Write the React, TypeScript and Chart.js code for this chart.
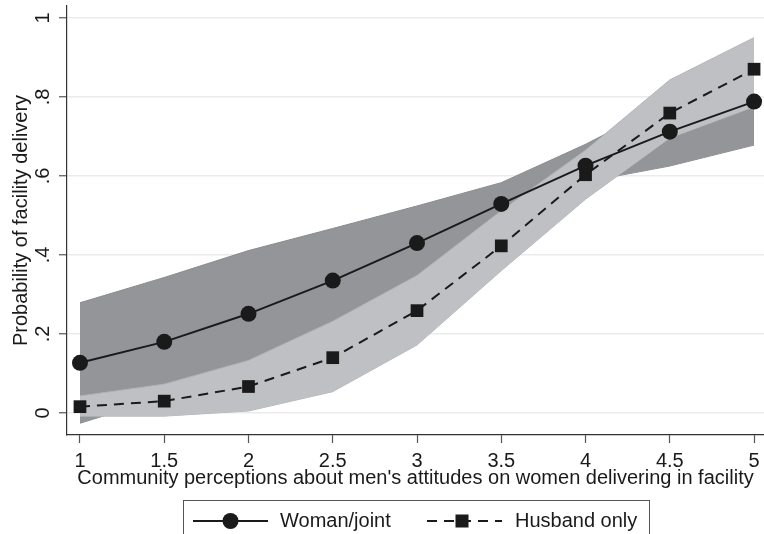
import React, { useEffect, useRef } from "react";
import { Chart, registerables } from "chart.js";

Chart.register(...registerables);

const xValues = [1, 1.5, 2, 2.5, 3, 3.5, 4, 4.5, 5];
const womanJoint = [0.127, 0.18, 0.251, 0.335, 0.43, 0.529, 0.626, 0.712, 0.788];
const husbandOnly = [0.016, 0.03, 0.067, 0.14, 0.259, 0.423, 0.603, 0.759, 0.87];
const womanLower = [-0.026, 0.04, 0.09, 0.2, 0.33, 0.47, 0.585, 0.625, 0.678];
const womanUpper = [0.279, 0.343, 0.411, 0.467, 0.524, 0.583, 0.68, 0.79, 0.89];
const husbandLower = [-0.008, -0.008, 0.005, 0.054, 0.172, 0.36, 0.541, 0.696, 0.775];
const husbandUpper = [0.043, 0.073, 0.133, 0.232, 0.348, 0.512, 0.665, 0.843, 0.95];
const seriesNames = ["Woman/joint", "Husband only"];
const xTickValues = [1, 1.5, 2, 2.5, 3, 3.5, 4, 4.5, 5];
const yTickValues = [0, 0.2, 0.4, 0.6, 0.8, 1];
const yTickLabels = ["0", ".2", ".4", ".6", ".8", "1"];
const xTitle = "Community perceptions about men's attitudes on women delivering in facility";
const yTitle = "Probability of facility delivery";

const FONT = "'Liberation Sans', Arial, Helvetica, sans-serif";
const FS = 20;
const INK = "#1a1a1a";
const DARK_BAND = "#939598";
const LIGHT_BAND = "#bfc0c3";

const pts = (ys: number[]) => xValues.map((x, i) => ({ x, y: ys[i] }));

const legendPlugin = {
  id: "stataLegend",
  afterDraw(chart: any) {
    const ctx = chart.ctx;
    ctx.save();
    ctx.strokeStyle = "#555";
    ctx.lineWidth = 1;
    ctx.strokeRect(183.5, 500.5, 466, 60);
    const y = 521;
    ctx.strokeStyle = INK;
    ctx.fillStyle = INK;
    ctx.lineWidth = 2;
    ctx.setLineDash([]);
    ctx.beginPath();
    ctx.moveTo(193, y);
    ctx.lineTo(268, y);
    ctx.stroke();
    ctx.beginPath();
    ctx.arc(230.5, y, 8, 0, Math.PI * 2);
    ctx.fill();
    ctx.setLineDash([10, 7]);
    ctx.beginPath();
    ctx.moveTo(427, y);
    ctx.lineTo(502, y);
    ctx.stroke();
    ctx.setLineDash([]);
    ctx.fillRect(462 - 6.5, y - 6.5, 13, 13);
    ctx.font = FS + "px " + FONT;
    ctx.textBaseline = "alphabetic";
    ctx.textAlign = "left";
    ctx.fillText(seriesNames[0], 280, 527);
    ctx.fillText(seriesNames[1], 515, 527);
    ctx.restore();
  },
};

export default function App() {
  const ref = useRef<HTMLCanvasElement | null>(null);
  useEffect(() => {
    if (!ref.current) return;
    const chart = new Chart(ref.current, {
      type: "line",
      data: {
        datasets: [
          {
            label: "wl",
            data: pts(womanLower),
            borderColor: "#8a8b8e",
            borderWidth: 1,
            pointRadius: 0,
            fill: false,
            order: 10,
          },
          {
            label: "wu",
            data: pts(womanUpper),
            borderColor: "#8a8b8e",
            borderWidth: 1,
            backgroundColor: DARK_BAND,
            pointRadius: 0,
            fill: "-1",
            order: 9,
          },
          {
            label: "hl",
            data: pts(husbandLower),
            borderColor: "#b3b4b7",
            borderWidth: 1,
            pointRadius: 0,
            fill: false,
            order: 8,
          },
          {
            label: "hu",
            data: pts(husbandUpper),
            borderColor: "#b3b4b7",
            borderWidth: 1,
            backgroundColor: LIGHT_BAND,
            pointRadius: 0,
            fill: "-1",
            order: 7,
          },
          {
            label: seriesNames[1],
            data: pts(husbandOnly),
            borderColor: INK,
            backgroundColor: INK,
            borderWidth: 2,
            borderDash: [10, 7],
            pointStyle: "rect",
            pointRadius: 9,
            pointBorderWidth: 0,
            fill: false,
            order: 2,
          },
          {
            label: seriesNames[0],
            data: pts(womanJoint),
            borderColor: INK,
            backgroundColor: INK,
            borderWidth: 2,
            pointStyle: "circle",
            pointRadius: 8,
            pointBorderWidth: 0,
            fill: false,
            order: 1,
          },
        ],
      },
      options: {
        responsive: false,
        animation: false,
        layout: { autoPadding: false, padding: { top: 6, left: 0, right: 0, bottom: 0 } },
        plugins: { legend: { display: false }, tooltip: { enabled: false } },
        scales: {
          x: {
            type: "linear",
            min: 0.923,
            max: 5.059,
            afterBuildTicks: (s: any) => {
              s.ticks = xTickValues.map((v) => ({ value: v }));
            },
            afterFit: (s: any) => {
              s.height = 99;
              s.paddingLeft = 0;
              s.paddingRight = 0;
            },
            ticks: {
              color: INK,
              font: { size: FS, family: FONT },
              padding: 6,
              maxRotation: 0,
              autoSkip: false,
              callback: (v: any) => String(v),
            },
            grid: {
              drawOnChartArea: false,
              drawTicks: true,
              tickLength: 8,
              tickColor: "#555",
              tickWidth: 1.2,
            },
            border: { color: "#333", width: 1.2 },
            title: {
              display: true,
              text: xTitle,
              color: INK,
              font: { size: FS, family: FONT },
              padding: { top: 0, bottom: 44 },
            },
          },
          y: {
            type: "linear",
            min: -0.0557,
            max: 1.03,
            afterBuildTicks: (s: any) => {
              s.ticks = yTickValues.map((v) => ({ value: v }));
            },
            afterFit: (s: any) => {
              s.width = 67;
              s.paddingTop = 0;
              s.paddingBottom = 0;
            },
            ticks: {
              color: INK,
              font: { size: FS, family: FONT },
              minRotation: 90,
              maxRotation: 90,
              crossAlign: "center",
              padding: 7,
              autoSkip: false,
              callback: (v: any) => {
                const i = yTickValues.findIndex((t) => Math.abs(t - v) < 1e-9);
                return i >= 0 ? yTickLabels[i] : "";
              },
            },
            grid: {
              color: "#ebebeb",
              lineWidth: 1.5,
              drawTicks: true,
              tickLength: 8,
              tickColor: "#555",
              tickWidth: 1.2,
            },
            border: { color: "#333", width: 1.2 },
            title: {
              display: true,
              text: yTitle,
              color: INK,
              font: { size: FS, family: FONT },
              padding: { top: 9, bottom: 0 },
            },
          },
        },
      },
      plugins: [legendPlugin],
    });
    return () => chart.destroy();
  }, []);
  return (
    <canvas
      ref={ref}
      width={764}
      height={534}
      style={{ position: "fixed", left: 0, top: 0, display: "block", width: 764, height: 534 }}
    />
  );
}
